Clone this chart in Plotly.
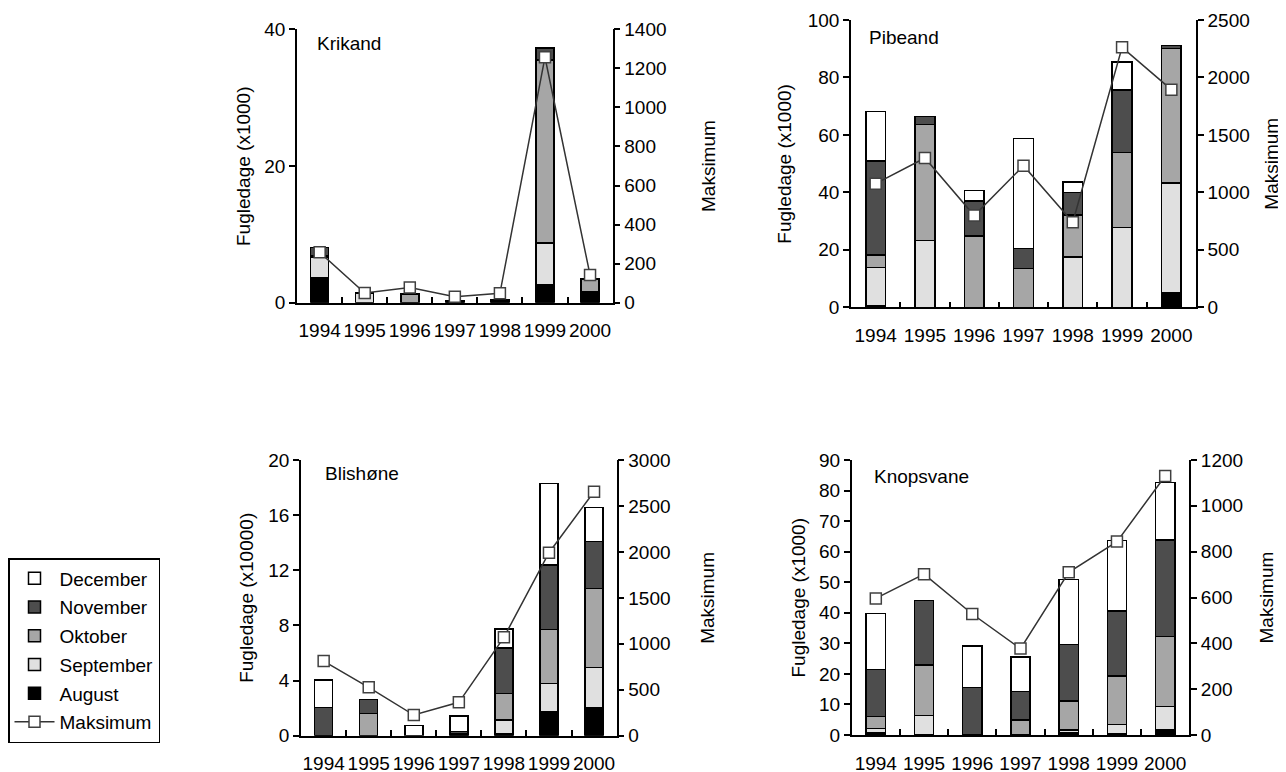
import plotly.graph_objects as go

years = ["1994", "1995", "1996", "1997", "1998", "1999", "2000"]
month_names = ["August", "September", "Oktober", "November", "December"]
month_colors = ["#000000", "#e0e0e0", "#a6a6a6", "#4d4d4d", "#ffffff"]

# Krikand (Fugledage x1000)
krikand_aug = [3.6, 0, 0, 0.3, 0.5, 2.7, 1.4]
krikand_sep = [3.0, 1.4, 0, 0, 0, 6.0, 0.2]
krikand_okt = [0.2, 0, 1.3, 0, 0, 26.8, 1.9]
krikand_nov = [1.3, 0, 0, 0, 0, 1.8, 0]
krikand_dec = [0, 0, 0, 0, 0, 0, 0]
krikand_max = [258, 50, 78, 31, 48, 1257, 142]

# Pibeand (Fugledage x1000)
pibeand_aug = [0.5, 0, 0, 0, 0, 0, 4.9]
pibeand_sep = [13.4, 23.2, 0, 0, 17.5, 27.7, 38.4]
pibeand_okt = [4.3, 40.5, 24.9, 13.5, 14.6, 26.1, 46.8]
pibeand_nov = [32.7, 2.7, 12.1, 7.0, 7.8, 21.8, 1.1]
pibeand_dec = [17.2, 0, 3.6, 38.2, 3.8, 9.7, 0]
pibeand_max = [1076, 1299, 798, 1232, 740, 2262, 1894]

# Blishøne (Fugledage x10000)
blishone_aug = [0, 0, 0, 0.15, 0.12, 1.74, 2.03]
blishone_sep = [0, 0, 0, 0, 1.02, 2.06, 2.9]
blishone_okt = [0, 1.62, 0, 0, 1.93, 3.91, 5.76]
blishone_nov = [2.06, 1.02, 0, 0.15, 3.31, 4.67, 3.41]
blishone_dec = [1.98, 0, 0.73, 1.13, 1.36, 5.92, 2.47]
blishone_max = [812, 526, 225, 363, 1070, 1991, 2655]

# Knopsvane (Fugledage x1000)
knopsvane_aug = [0.8, 0, 0, 0, 0.8, 0.3, 1.6]
knopsvane_sep = [1.3, 6.4, 0, 0, 0.8, 3.2, 7.7]
knopsvane_okt = [3.9, 16.5, 0, 4.9, 9.6, 15.8, 22.9]
knopsvane_nov = [15.5, 21.1, 15.6, 9.3, 18.4, 21.3, 31.6]
knopsvane_dec = [18.3, 0, 13.5, 11.4, 21.3, 23.0, 18.8]
knopsvane_max = [596, 702, 528, 377, 710, 844, 1130]

# layout boxes in page pixels: (left, right, top, bottom)
panels = [
    dict(name="Krikand", months=[krikand_aug, krikand_sep, krikand_okt, krikand_nov, krikand_dec],
         maxv=krikand_max, ylab="Fugledage (x1000)", yr=[0, 40], ydt=20, y2r=[0, 1400], y2dt=200,
         box=(297, 612.7, 29.3, 302.7),
         ytitle_x=243, y2title_x=708, title_pos=(315, 44)),
    dict(name="Pibeand", months=[pibeand_aug, pibeand_sep, pibeand_okt, pibeand_nov, pibeand_dec],
         maxv=pibeand_max, ylab="Fugledage (x1000)", yr=[0, 100], ydt=20, y2r=[0, 2500], y2dt=500,
         box=(851, 1196, 20, 307.3),
         ytitle_x=785, y2title_x=1272, title_pos=(867, 37)),
    dict(name="Blishøne", months=[blishone_aug, blishone_sep, blishone_okt, blishone_nov, blishone_dec],
         maxv=blishone_max, ylab="Fugledage (x10000)", yr=[0, 20], ydt=4, y2r=[0, 3000], y2dt=500,
         box=(301, 616.7, 460, 735.7),
         ytitle_x=247, y2title_x=708, title_pos=(323, 473)),
    dict(name="Knopsvane", months=[knopsvane_aug, knopsvane_sep, knopsvane_okt, knopsvane_nov, knopsvane_dec],
         maxv=knopsvane_max, ylab="Fugledage (x1000)", yr=[0, 90], ydt=10, y2r=[0, 1200], y2dt=200,
         box=(851.7, 1189.3, 460, 735),
         ytitle_x=798, y2title_x=1266, title_pos=(872, 476)),
]

W, H = 1286, 772
OFF = 8  # page body margin
FONT = "Liberation Sans, Arial, sans-serif"
FS = 19


def px(x):
    return (x - OFF) / W


def py(y):
    return 1 - (y - OFF) / H


fig = go.Figure()
layout = dict(
    width=W, height=H,
    margin=dict(l=0, r=0, t=0, b=0, autoexpand=False),
    paper_bgcolor="white", plot_bgcolor="white",
    barmode="stack", bargap=0.6,
    font=dict(family=FONT, size=FS, color="black"),
    showlegend=True,
    legend=dict(x=px(8), y=py(558), xanchor="left", yanchor="top",
                bordercolor="black", borderwidth=1.5, bgcolor="white",
                font=dict(family=FONT, size=FS, color="black"),
                tracegroupgap=1, itemwidth=40),
)
annotations = []

for i, p in enumerate(panels):
    k = i + 1
    xa = "x" if k == 1 else f"x{k}"
    yl_n = 2 * k - 1
    yr_n = 2 * k
    ya_l = "y" if yl_n == 1 else f"y{yl_n}"
    ya_r = f"y{yr_n}"
    for m, (mname, mcol) in enumerate(zip(month_names, month_colors)):
        fig.add_trace(go.Bar(
            x=years, y=p["months"][m], name=mname, xaxis=xa, yaxis=ya_l,
            marker=dict(color=mcol, line=dict(color="black", width=1.5)),
            showlegend=(k == 1), legendgroup=mname, legendrank=5 - m,
        ))
    fig.add_trace(go.Scatter(
        x=years, y=p["maxv"], name="Maksimum", mode="lines+markers",
        xaxis=xa, yaxis=ya_r,
        line=dict(color="#333333", width=1.5),
        marker=dict(symbol="square", size=11, color="white",
                    line=dict(color="#404040", width=1.5)),
        showlegend=(k == 1), legendgroup="Maksimum", legendrank=6,
    ))
    l, r, t, b = p["box"]
    xkey = "xaxis" if k == 1 else f"xaxis{k}"
    ylkey = "yaxis" if yl_n == 1 else f"yaxis{yl_n}"
    yrkey = f"yaxis{yr_n}"
    layout[xkey] = dict(
        domain=[px(l), px(r)], anchor=ya_l, type="category", automargin=False,
        showline=True, linecolor="black", linewidth=1.5,
        ticks="inside", tickson="boundaries", ticklen=6, tickwidth=1.5, tickcolor="black",
        showgrid=False, zeroline=False, ticklabelstandoff=10, tickangle=0,
        tickfont=dict(family=FONT, size=FS, color="black"),
    )
    layout[ylkey] = dict(
        domain=[py(b), py(t)], anchor=xa, range=p["yr"], dtick=p["ydt"], automargin=False,
        showline=True, linecolor="black", linewidth=1.5,
        ticks="outside", ticklen=6, tickwidth=1.5, tickcolor="black",
        showgrid=False, zeroline=False,
        tickfont=dict(family=FONT, size=FS, color="black"),
    )
    layout[yrkey] = dict(
        overlaying=ya_l, anchor=xa, side="right", range=p["y2r"], dtick=p["y2dt"],
        automargin=False,
        showline=True, linecolor="black", linewidth=1.5,
        ticks="outside", ticklen=6, tickwidth=1.5, tickcolor="black",
        showgrid=False, zeroline=False,
        tickfont=dict(family=FONT, size=FS, color="black"),
    )
    ymid = py((t + b) / 2)
    annotations.append(dict(text=p["ylab"], xref="paper", yref="paper",
                            x=px(p["ytitle_x"]), y=ymid, xanchor="center", yanchor="middle",
                            textangle=-90, showarrow=False,
                            font=dict(family=FONT, size=FS, color="black")))
    annotations.append(dict(text="Maksimum", xref="paper", yref="paper",
                            x=px(p["y2title_x"]), y=ymid, xanchor="center", yanchor="middle",
                            textangle=-90, showarrow=False,
                            font=dict(family=FONT, size=FS, color="black")))
    tx, ty = p["title_pos"]
    annotations.append(dict(text=p["name"], xref="paper", yref="paper",
                            x=px(tx), y=py(ty), xanchor="left", yanchor="middle",
                            showarrow=False, font=dict(family=FONT, size=FS, color="black")))

layout["annotations"] = annotations
fig.update_layout(**layout)
fig.write_html("out.html")
